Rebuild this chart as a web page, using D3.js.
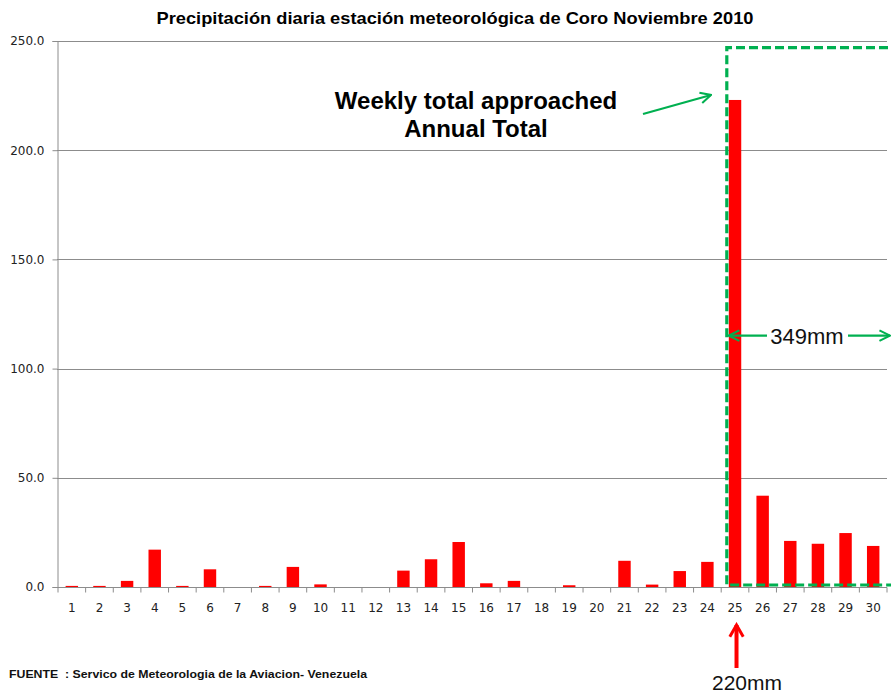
<!DOCTYPE html>
<meta charset="utf-8">
<html>
  <head>
    <script src="https://cdn.jsdelivr.net/npm/d3@7"></script>
    <style>
      body { margin: 0; background: #fff; }
      svg { display: block; }
    </style>
  </head>
  <body>
    <div id="chart"></div>
    <script>
      const days = d3.range(1, 31).map(String);
      const rain = [0.5, 0.5, 2.8, 17.1, 0.5, 8.1, 0, 0.5, 9.2, 1.2,
                    0, 0, 7.5, 12.7, 20.6, 1.7, 2.8, 0, 0.8, 0,
                    12.0, 1.1, 7.3, 11.5, 223.0, 41.8, 21.1, 19.8, 24.7, 18.8];
      const yTicks = [0, 50, 100, 150, 200, 250];

      const width = 891, height = 696;
      const margin = {top: 41, right: 4, bottom: 109, left: 57};
      const green = "#00b050";

      const svg = d3.select("#chart").append("svg")
        .attr("width", width).attr("height", height);

      const defs = svg.append("defs");
      defs.append("marker").attr("id", "gHead")
        .attr("viewBox", "0 0 10 10").attr("refX", 9).attr("refY", 5)
        .attr("markerWidth", 6).attr("markerHeight", 6).attr("orient", "auto-start-reverse")
        .append("path").attr("d", "M1,1 L9,5 L1,9")
        .attr("fill", "none").attr("stroke", green).attr("stroke-width", 1.6);
      defs.append("marker").attr("id", "rHead")
        .attr("viewBox", "0 0 10 10").attr("refX", 8).attr("refY", 5)
        .attr("markerWidth", 4.2).attr("markerHeight", 4.2).attr("orient", "auto")
        .append("path").attr("d", "M1,1 L8,5 L1,9")
        .attr("fill", "none").attr("stroke", "red").attr("stroke-width", 1.8);

      const x = d3.scaleBand().domain(days)
        .range([margin.left + 1, width - margin.right]).paddingInner(0.55).paddingOuter(0.275);
      const y = d3.scaleLinear().domain([0, 250]).range([height - margin.bottom, margin.top]);
      const step = x.step();
      const x0 = margin.left, x1 = width - margin.right;

      // title
      svg.append("text").attr("x", 455).attr("y", 24).attr("text-anchor", "middle")
        .attr("textLength", 597).attr("lengthAdjust", "spacingAndGlyphs")
        .style("font", "bold 17px 'Liberation Sans', Arial, sans-serif")
        .text("Precipitación diaria estación meteorológica de Coro Noviembre 2010");

      // gridlines
      svg.append("g").selectAll("line").data(yTicks.filter(d => d > 0)).join("line")
        .attr("x1", x0).attr("x2", x1)
        .attr("y1", d => Math.round(y(d)) + 0.5).attr("y2", d => Math.round(y(d)) + 0.5)
        .attr("stroke", "#8c8c8c").attr("stroke-width", 1);

      // y axis
      const yAxis = svg.append("g").attr("transform", `translate(${x0 + 0.5},0)`)
        .call(d3.axisLeft(y).tickValues(yTicks).tickFormat(d3.format(".1f")).tickSize(5).tickPadding(8));
      yAxis.select(".domain").attr("stroke", "#8c8c8c");
      yAxis.selectAll(".tick line").attr("stroke", "#8c8c8c");
      yAxis.selectAll("text").style("font", "12px 'DejaVu Sans', Verdana, sans-serif").attr("fill", "#222");

      // bars
      svg.append("g").selectAll("rect").data(rain).join("rect")
        .attr("x", (d, i) => x(days[i])).attr("width", x.bandwidth())
        .attr("y", d => y(d)).attr("height", d => y(0) - y(d))
        .attr("fill", "#ff0000");

      // x axis
      const xAxis = svg.append("g").attr("transform", `translate(0,${Math.round(y(0)) + 0.5})`);
      xAxis.append("line").attr("x1", x0).attr("x2", x1).attr("stroke", "#8c8c8c");
      xAxis.selectAll(".tk").data(d3.range(0, days.length + 1)).join("line")
        .attr("x1", i => x0 + 1 + i * step).attr("x2", i => x0 + 1 + i * step)
        .attr("y1", 0).attr("y2", 5).attr("stroke", "#8c8c8c");
      xAxis.selectAll("text").data(days).join("text")
        .attr("x", d => x(d) + x.bandwidth() / 2).attr("y", 24).attr("text-anchor", "middle")
        .style("font", "12px 'DejaVu Sans', Verdana, sans-serif").attr("fill", "#222")
        .text(d => d);

      // dashed week box
      const boxL = x("25") - 2, boxT = y(247), boxB = y(0) - 2;
      svg.append("path")
        .attr("d", `M${width + 10},${boxT} L${boxL},${boxT} L${boxL},${boxB} L${width + 10},${boxB}`)
        .attr("fill", "none").attr("stroke", green).attr("stroke-width", 3.2)
        .attr("stroke-dasharray", "9,4");

      // annotation text + arrow
      const note = svg.append("text").attr("text-anchor", "middle")
        .style("font", "bold 24px 'Liberation Sans', Arial, sans-serif");
      note.append("tspan").attr("x", 476).attr("y", 109).text("Weekly total approached");
      note.append("tspan").attr("x", 476).attr("y", 137).text("Annual Total");
      svg.append("line").attr("x1", 643).attr("y1", 114).attr("x2", 711).attr("y2", 95)
        .attr("stroke", green).attr("stroke-width", 2.2).attr("marker-end", "url(#gHead)");

      // 349mm
      const ym = y(100) - 33;
      svg.append("line").attr("x1", 767).attr("y1", ym).attr("x2", boxL + 2).attr("y2", ym)
        .attr("stroke", green).attr("stroke-width", 2.2).attr("marker-end", "url(#gHead)");
      svg.append("line").attr("x1", 848).attr("y1", ym).attr("x2", 890).attr("y2", ym)
        .attr("stroke", green).attr("stroke-width", 2.2).attr("marker-end", "url(#gHead)");
      svg.append("text").attr("x", 807).attr("y", ym + 8).attr("text-anchor", "middle")
        .style("font", "22px 'Liberation Sans', Arial, sans-serif").attr("fill", "#111")
        .text("349mm");

      // 220mm red arrow
      const cx = x("25") + x.bandwidth() / 2 + 1.5;
      svg.append("line").attr("x1", cx).attr("y1", 668).attr("x2", cx).attr("y2", 625)
        .attr("stroke", "red").attr("stroke-width", 4).attr("marker-end", "url(#rHead)");
      svg.append("text").attr("x", 747).attr("y", 690).attr("text-anchor", "middle")
        .style("font", "21px 'Liberation Sans', Arial, sans-serif").attr("fill", "#111")
        .text("220mm");

      // source
      svg.append("text").attr("x", 9).attr("y", 678)
        .attr("textLength", 358).attr("lengthAdjust", "spacingAndGlyphs")
        .style("font", "bold 11.5px 'Liberation Sans', Arial, sans-serif").attr("fill", "#111")
        .attr("xml:space", "preserve")
        .text("FUENTE  : Servico de Meteorologia de la Aviacion- Venezuela");
    </script>
  </body>
</html>
